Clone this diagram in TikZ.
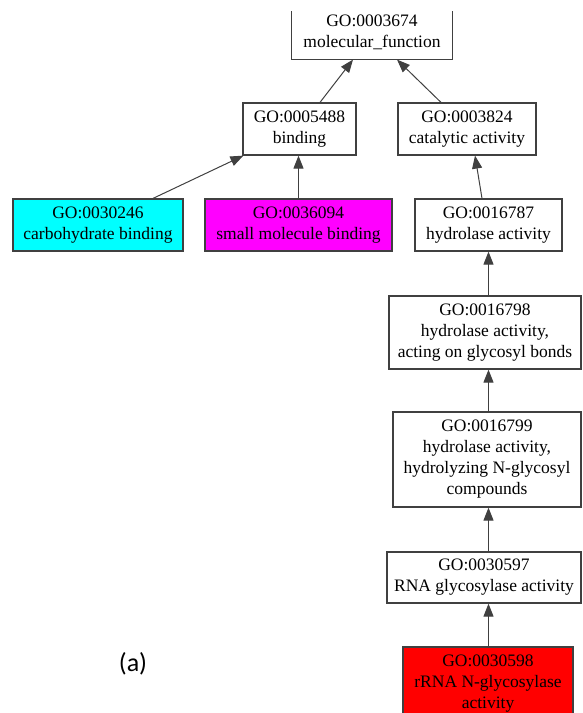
\documentclass[tikz,border=0pt]{standalone}
\usepackage{fontspec}
\setmainfont{Liberation Serif}
\newfontfamily\capfont{Carlito}
\usetikzlibrary{arrows.meta,positioning}
\definecolor{gocyan}{RGB}{0,255,255}
\definecolor{gomagenta}{RGB}{255,0,255}
\definecolor{gored}{RGB}{255,0,0}

\begin{document}
\begin{tikzpicture}
  [x=1pt,y=-1pt,
   term/.style={rectangle,draw=black!75,line width=1.2pt,align=center,inner sep=2pt,
                font=\fontsize{17.5}{21}\selectfont},
   isa/.style={-{Triangle[length=13pt,width=10pt]},draw=black!75,line width=1pt}]

  \useasboundingbox (0,0) rectangle (582,713);

  % top term, its upper edge is cut off
  \node[term,draw=none,minimum width=160pt,minimum height=53pt] (mf) at (372,32.5) {GO:0003674\\molecular\_function};
  \draw[draw=black!75,line width=1.2pt] ([yshift=-6pt]mf.north west) -- (mf.south west)
    -- (mf.south east) -- ([yshift=-6pt]mf.north east);

  \node[term,minimum width=113pt,minimum height=52pt] (binding)   at (299.5,129) {GO:0005488\\binding};
  \node[term,minimum width=138pt,minimum height=52pt] (catalytic) at (467,129)   {GO:0003824\\catalytic activity};

  \node[term,fill=gocyan,minimum width=170pt,minimum height=52pt]    (carb)  at (98,225)    {GO:0030246\\carbohydrate binding};
  \node[term,fill=gomagenta,minimum width=187pt,minimum height=52pt] (small) at (298.5,225) {GO:0036094\\small molecule binding};
  \node[term,minimum width=147pt,minimum height=52pt]                (hydro) at (488.5,225) {GO:0016787\\hydrolase activity};

  \node[term,minimum width=192pt,minimum height=73pt] (glycosyl)  at (485,332.5) {GO:0016798\\hydrolase activity,\\acting on glycosyl bonds};
  \node[term,minimum width=188pt,minimum height=95pt] (nglycosyl) at (487,459.5) {GO:0016799\\hydrolase activity,\\hydrolyzing N-glycosyl\\compounds};
  \node[term,minimum width=194pt,minimum height=51pt] (rna)       at (484,577.5) {GO:0030597\\RNA glycosylase activity};
  \node[term,fill=gored,minimum width=170pt,minimum height=73pt] (rrna) at (488,683.5) {GO:0030598\\rRNA N-glycosylase\\activity};

  \node[font=\capfont\fontsize{26}{30}\selectfont] (panel) at (133,664) {(a)};

  % is_a edges
  \draw[isa] ([xshift=20.5pt]binding.north)  -- ([xshift=-19pt]mf.south);
  \draw[isa] ([xshift=-26pt]catalytic.north) -- ([xshift=25pt]mf.south);
  \draw[isa] ([xshift=55pt]carb.north)       -- ([xshift=1pt]binding.south west);
  \draw[isa] (small.north)                   -- (small.north |- binding.south);
  \draw[isa] ([xshift=-6.5pt]hydro.north)    -- ([xshift=8pt]catalytic.south);
  \draw[isa] (hydro.south |- glycosyl.north) -- (hydro.south);
  \draw[isa] (hydro.south |- nglycosyl.north) -- (hydro.south |- glycosyl.south);
  \draw[isa] (hydro.south |- rna.north)      -- (hydro.south |- nglycosyl.south);
  \draw[isa] (hydro.south |- rrna.north)     -- (hydro.south |- rna.south);

\end{tikzpicture}
\end{document}
